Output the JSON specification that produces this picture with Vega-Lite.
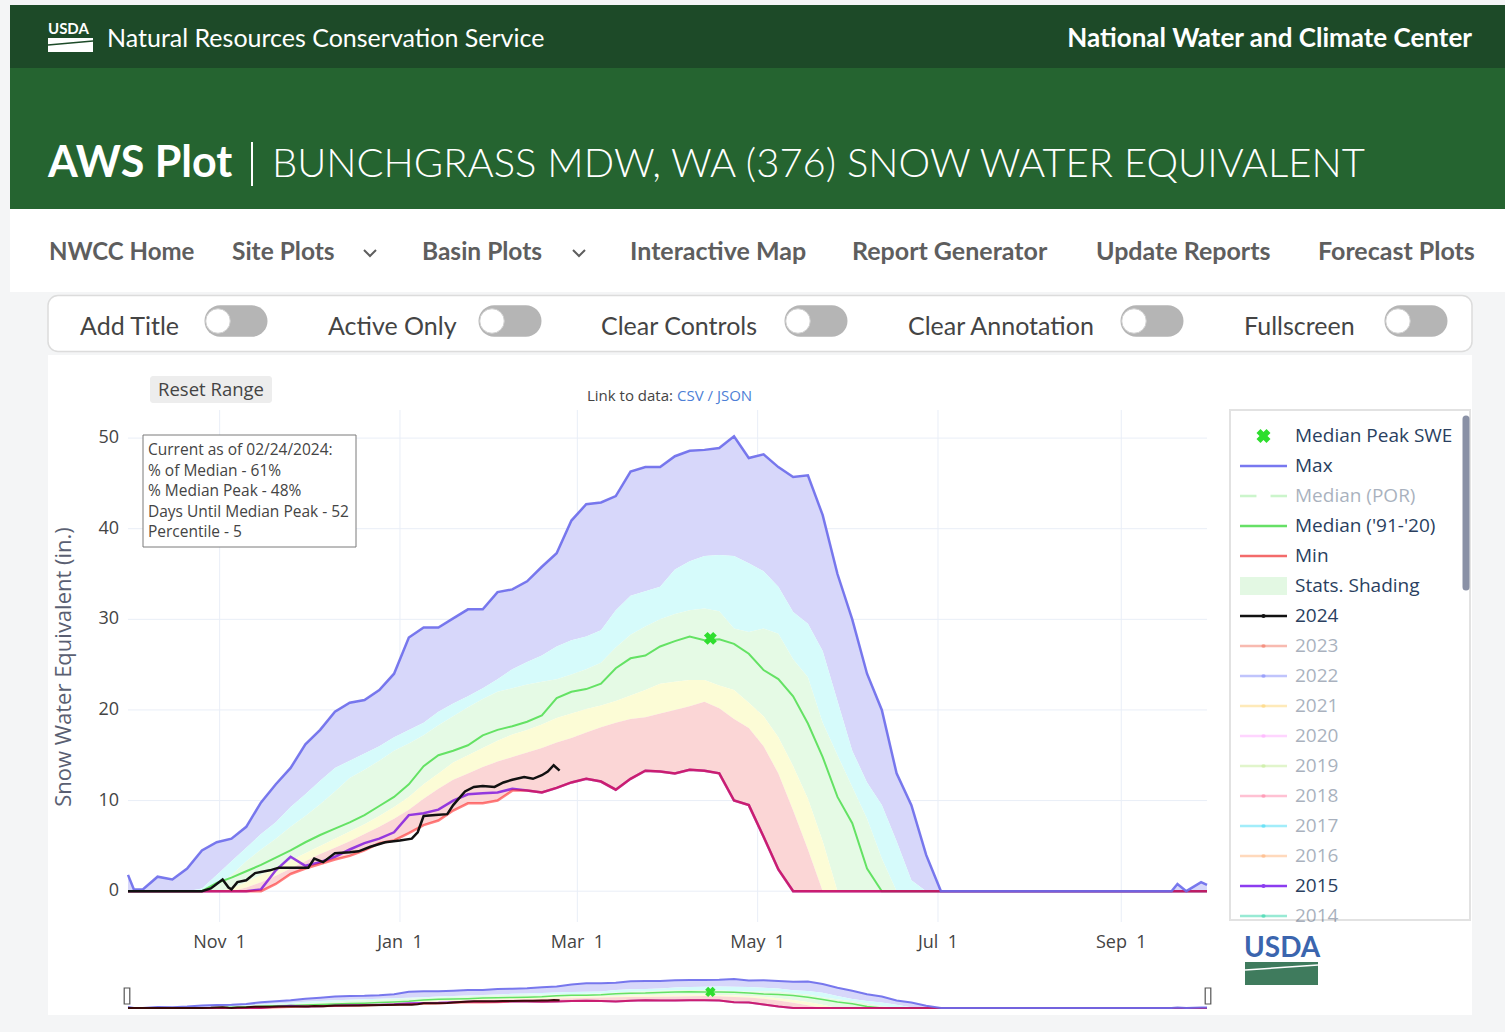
{
"$schema":"https://vega.github.io/schema/vega-lite/v6.json",
"background":"#f4f5f6",
"padding":{"left":10,"top":5,"right":0,"bottom":0},
"bounds":"flush",
"spacing":0,
"config":{"view":{"stroke":null},"font":"Open Sans"},
"datasets":{
"stats":[
{"d":"2023-10-01","mx":1.8,"b1":0,"b2":0,"b3":0,"b4":0,"mn":0,"med":0,"y15":0},
{"d":"2023-10-03","mx":0.2,"b1":0,"b2":0,"b3":0,"b4":0,"mn":0,"med":0,"y15":0},
{"d":"2023-10-06","mx":0.2,"b1":0,"b2":0,"b3":0,"b4":0,"mn":0,"med":0,"y15":0},
{"d":"2023-10-11","mx":1.6,"b1":0,"b2":0,"b3":0,"b4":0,"mn":0,"med":0,"y15":0},
{"d":"2023-10-16","mx":1.3,"b1":0,"b2":0,"b3":0,"b4":0,"mn":0,"med":0,"y15":0},
{"d":"2023-10-21","mx":2.5,"b1":0,"b2":0,"b3":0,"b4":0,"mn":0,"med":0,"y15":0},
{"d":"2023-10-26","mx":4.5,"b1":0.3,"b2":0,"b3":0,"b4":0,"mn":0,"med":0,"y15":0},
{"d":"2023-10-31","mx":5.4,"b1":1.8,"b2":0.6,"b3":0,"b4":0,"mn":0,"med":0.9,"y15":0},
{"d":"2023-11-05","mx":5.8,"b1":3.3,"b2":1.8,"b3":0.3,"b4":0,"mn":0,"med":1.5,"y15":0},
{"d":"2023-11-10","mx":7.1,"b1":4.8,"b2":3.3,"b3":1.0,"b4":0.4,"mn":0,"med":2.2,"y15":0},
{"d":"2023-11-15","mx":9.8,"b1":6.3,"b2":4.6,"b3":1.8,"b4":1.0,"mn":0,"med":2.9,"y15":0.2},
{"d":"2023-11-20","mx":11.8,"b1":7.6,"b2":5.8,"b3":2.6,"b4":1.7,"mn":0.8,"med":3.7,"y15":2.3},
{"d":"2023-11-25","mx":13.6,"b1":9.3,"b2":7.1,"b3":3.4,"b4":2.5,"mn":1.9,"med":4.5,"y15":3.8},
{"d":"2023-11-30","mx":16.2,"b1":10.7,"b2":8.3,"b3":4.2,"b4":3.3,"mn":2.5,"med":5.4,"y15":2.8},
{"d":"2023-12-05","mx":17.8,"b1":12.2,"b2":9.6,"b3":5.0,"b4":4.1,"mn":3.0,"med":6.2,"y15":3.2},
{"d":"2023-12-10","mx":19.8,"b1":13.6,"b2":11.0,"b3":5.8,"b4":4.8,"mn":3.5,"med":6.9,"y15":3.8},
{"d":"2023-12-15","mx":20.8,"b1":14.4,"b2":12.5,"b3":6.6,"b4":5.5,"mn":3.9,"med":7.6,"y15":4.6},
{"d":"2023-12-20","mx":21.1,"b1":15.2,"b2":13.4,"b3":7.4,"b4":6.3,"mn":4.5,"med":8.4,"y15":5.3},
{"d":"2023-12-25","mx":22.2,"b1":16.0,"b2":14.4,"b3":8.3,"b4":7.1,"mn":5.3,"med":9.4,"y15":5.8},
{"d":"2023-12-30","mx":24.0,"b1":17.0,"b2":15.5,"b3":9.3,"b4":8.0,"mn":5.6,"med":10.4,"y15":6.5},
{"d":"2024-01-04","mx":28.0,"b1":17.8,"b2":16.3,"b3":10.4,"b4":9.0,"mn":6.4,"med":11.8,"y15":8.4},
{"d":"2024-01-09","mx":29.1,"b1":18.6,"b2":17.2,"b3":11.8,"b4":10.2,"mn":7.3,"med":13.8,"y15":8.6},
{"d":"2024-01-14","mx":29.1,"b1":19.8,"b2":18.3,"b3":13.0,"b4":11.3,"mn":7.8,"med":15.0,"y15":9.0},
{"d":"2024-01-19","mx":30.1,"b1":20.7,"b2":19.3,"b3":14.2,"b4":12.3,"mn":8.9,"med":15.5,"y15":10.0},
{"d":"2024-01-24","mx":31.1,"b1":21.5,"b2":20.3,"b3":15.0,"b4":13.0,"mn":9.7,"med":16.1,"y15":10.7},
{"d":"2024-01-29","mx":31.1,"b1":22.4,"b2":21.2,"b3":15.8,"b4":13.7,"mn":9.7,"med":17.2,"y15":10.8},
{"d":"2024-02-03","mx":33.0,"b1":23.4,"b2":22.0,"b3":16.6,"b4":14.3,"mn":10.0,"med":17.8,"y15":10.9},
{"d":"2024-02-08","mx":33.3,"b1":24.5,"b2":22.4,"b3":17.3,"b4":14.8,"mn":11.1,"med":18.2,"y15":11.3},
{"d":"2024-02-13","mx":34.2,"b1":25.3,"b2":22.8,"b3":17.8,"b4":15.3,"mn":11.1,"med":18.7,"y15":11.1},
{"d":"2024-02-18","mx":35.8,"b1":26.0,"b2":23.1,"b3":18.4,"b4":15.8,"mn":10.9,"med":19.4,"y15":10.9},
{"d":"2024-02-23","mx":37.3,"b1":27.0,"b2":23.4,"b3":19.1,"b4":16.4,"mn":11.4,"med":21.3,"y15":11.4},
{"d":"2024-02-28","mx":40.9,"b1":27.7,"b2":23.9,"b3":19.6,"b4":16.9,"mn":12.0,"med":22.0,"y15":12.0},
{"d":"2024-03-04","mx":42.7,"b1":28.1,"b2":24.5,"b3":20.1,"b4":17.5,"mn":12.4,"med":22.3,"y15":12.4},
{"d":"2024-03-09","mx":42.9,"b1":28.8,"b2":25.2,"b3":20.5,"b4":18.1,"mn":12.1,"med":22.9,"y15":12.1},
{"d":"2024-03-14","mx":43.6,"b1":31.0,"b2":26.9,"b3":21.0,"b4":18.6,"mn":11.2,"med":24.6,"y15":11.2},
{"d":"2024-03-19","mx":46.3,"b1":32.6,"b2":28.3,"b3":21.6,"b4":19.0,"mn":12.4,"med":25.7,"y15":12.4},
{"d":"2024-03-24","mx":46.8,"b1":33.1,"b2":29.2,"b3":22.2,"b4":19.2,"mn":13.3,"med":26.0,"y15":13.3},
{"d":"2024-03-29","mx":46.8,"b1":33.6,"b2":30.0,"b3":22.9,"b4":19.6,"mn":13.2,"med":27.0,"y15":13.2},
{"d":"2024-04-03","mx":48.0,"b1":35.5,"b2":30.6,"b3":23.1,"b4":20.0,"mn":13.0,"med":27.6,"y15":13.0},
{"d":"2024-04-08","mx":48.6,"b1":36.4,"b2":31.0,"b3":23.3,"b4":20.4,"mn":13.4,"med":28.1,"y15":13.4},
{"d":"2024-04-13","mx":48.7,"b1":37.0,"b2":31.2,"b3":23.3,"b4":20.9,"mn":13.3,"med":27.7,"y15":13.3},
{"d":"2024-04-18","mx":48.9,"b1":37.1,"b2":30.9,"b3":22.7,"b4":20.2,"mn":13.0,"med":27.8,"y15":13.0},
{"d":"2024-04-23","mx":50.2,"b1":37.0,"b2":29.0,"b3":22.2,"b4":19.0,"mn":10.0,"med":27.3,"y15":10.0},
{"d":"2024-04-28","mx":47.8,"b1":36.2,"b2":28.6,"b3":20.8,"b4":18.0,"mn":9.5,"med":26.2,"y15":9.5},
{"d":"2024-05-03","mx":48.2,"b1":35.3,"b2":29.0,"b3":19.3,"b4":16.0,"mn":6.0,"med":24.4,"y15":6.0},
{"d":"2024-05-08","mx":46.8,"b1":33.6,"b2":28.4,"b3":17.0,"b4":13.0,"mn":2.4,"med":23.4,"y15":2.4},
{"d":"2024-05-13","mx":45.7,"b1":30.8,"b2":25.6,"b3":13.8,"b4":8.9,"mn":0,"med":21.5,"y15":0},
{"d":"2024-05-18","mx":45.9,"b1":29.5,"b2":23.6,"b3":10.2,"b4":4.6,"mn":0,"med":18.5,"y15":0},
{"d":"2024-05-23","mx":41.5,"b1":26.5,"b2":18.6,"b3":5.5,"b4":0,"mn":0,"med":14.8,"y15":0},
{"d":"2024-05-28","mx":35.0,"b1":21.0,"b2":15.0,"b3":0,"b4":0,"mn":0,"med":10.4,"y15":0},
{"d":"2024-06-02","mx":30.0,"b1":15.5,"b2":11.5,"b3":0,"b4":0,"mn":0,"med":7.5,"y15":0},
{"d":"2024-06-07","mx":24.0,"b1":12.0,"b2":8.0,"b3":0,"b4":0,"mn":0,"med":2.5,"y15":0},
{"d":"2024-06-12","mx":20.0,"b1":9.5,"b2":3.6,"b3":0,"b4":0,"mn":0,"med":0,"y15":0},
{"d":"2024-06-17","mx":13.0,"b1":5.5,"b2":0,"b3":0,"b4":0,"mn":0,"med":0,"y15":0},
{"d":"2024-06-22","mx":9.5,"b1":1.2,"b2":0,"b3":0,"b4":0,"mn":0,"med":0,"y15":0},
{"d":"2024-06-27","mx":4.0,"b1":0,"b2":0,"b3":0,"b4":0,"mn":0,"med":0,"y15":0},
{"d":"2024-07-02","mx":0,"b1":0,"b2":0,"b3":0,"b4":0,"mn":0,"med":0,"y15":0},
{"d":"2024-07-27","mx":0,"b1":0,"b2":0,"b3":0,"b4":0,"mn":0,"med":0,"y15":0},
{"d":"2024-09-05","mx":0,"b1":0,"b2":0,"b3":0,"b4":0,"mn":0,"med":0,"y15":0},
{"d":"2024-09-18","mx":0,"b1":0,"b2":0,"b3":0,"b4":0,"mn":0,"med":0,"y15":0},
{"d":"2024-09-20","mx":0.8,"b1":0,"b2":0,"b3":0,"b4":0,"mn":0,"med":0,"y15":0},
{"d":"2024-09-23","mx":0,"b1":0,"b2":0,"b3":0,"b4":0,"mn":0,"med":0,"y15":0},
{"d":"2024-09-28","mx":1.0,"b1":0,"b2":0,"b3":0,"b4":0,"mn":0,"med":0,"y15":0},
{"d":"2024-09-30","mx":0.7,"b1":0,"b2":0,"b3":0,"b4":0,"mn":0,"med":0,"y15":0}
],
"y2024":[
{"d":"2023-10-01","v":0},{"d":"2023-10-26","v":0},{"d":"2023-10-29","v":0.3},{"d":"2023-10-31","v":0.8},
{"d":"2023-11-02","v":1.3},{"d":"2023-11-04","v":0.4},{"d":"2023-11-05","v":0.2},{"d":"2023-11-07","v":1.0},
{"d":"2023-11-10","v":1.2},{"d":"2023-11-13","v":2.0},{"d":"2023-11-18","v":2.3},{"d":"2023-11-21","v":2.6},
{"d":"2023-11-26","v":2.6},{"d":"2023-12-01","v":2.6},{"d":"2023-12-03","v":3.6},{"d":"2023-12-06","v":3.2},
{"d":"2023-12-10","v":4.2},{"d":"2023-12-15","v":4.3},{"d":"2023-12-18","v":4.4},{"d":"2023-12-22","v":4.9},
{"d":"2023-12-27","v":5.4},{"d":"2024-01-01","v":5.6},{"d":"2024-01-05","v":5.8},{"d":"2024-01-07","v":6.5},
{"d":"2024-01-09","v":8.3},{"d":"2024-01-13","v":8.4},{"d":"2024-01-17","v":8.5},{"d":"2024-01-19","v":9.5},
{"d":"2024-01-23","v":11.0},{"d":"2024-01-26","v":11.5},{"d":"2024-01-29","v":11.6},{"d":"2024-02-02","v":11.5},
{"d":"2024-02-05","v":12.0},{"d":"2024-02-08","v":12.3},{"d":"2024-02-12","v":12.6},{"d":"2024-02-15","v":12.4},
{"d":"2024-02-18","v":12.8},{"d":"2024-02-20","v":13.2},{"d":"2024-02-22","v":13.9},{"d":"2024-02-24","v":13.3}
],
"peak":[{"d":"2024-04-15","v":27.9}],
"ticksX":[{"d":"2023-11-01","lab":"Nov\u00a0\u00a01"},{"d":"2024-01-01","lab":"Jan\u00a0\u00a01"},{"d":"2024-03-01","lab":"Mar\u00a0\u00a01"},{"d":"2024-05-01","lab":"May\u00a0\u00a01"},{"d":"2024-07-01","lab":"Jul\u00a0\u00a01"},{"d":"2024-09-01","lab":"Sep\u00a0\u00a01"}],
"ticksY":[{"v":0,"from":"2023-10-01","to":"2024-09-30"},{"v":10,"from":"2023-10-01","to":"2024-09-30"},{"v":20,"from":"2023-10-01","to":"2024-09-30"},{"v":30,"from":"2023-10-01","to":"2024-09-30"},{"v":40,"from":"2023-10-01","to":"2024-09-30"},{"v":50,"from":"2023-10-01","to":"2024-09-30"}],
"legend":[
{"label":"Median Peak SWE","state":"on"},{"label":"Max","state":"on"},{"label":"Median (POR)","state":"off"},
{"label":"Median ('91-'20)","state":"on"},{"label":"Min","state":"on"},{"label":"Stats. Shading","state":"on"},
{"label":"2024","state":"on"},{"label":"2023","state":"off"},{"label":"2022","state":"off"},{"label":"2021","state":"off"},
{"label":"2020","state":"off"},{"label":"2019","state":"off"},{"label":"2018","state":"off"},{"label":"2017","state":"off"},
{"label":"2016","state":"off"},{"label":"2015","state":"on"},{"label":"2014","state":"off"}
]
},
"vconcat":[
{"width":1495,"height":63,"view":{"fill":"#1d4a28","stroke":null},"layer":[
 {"data":{"values":[{"t":"USDA"}]},"mark":{"type":"text","font":"Lato","fontSize":15,"fontWeight":"bold","color":"#ffffff","align":"left","baseline":"alphabetic"},"encoding":{"text":{"field":"t"},"x":{"datum":38,"type":"quantitative","scale":{"domain":[0,1495],"nice":false,"zero":false},"axis":null},"y":{"datum":29,"type":"quantitative","scale":{"domain":[0,63],"nice":false,"zero":false,"reverse":true},"axis":null}}},
 {"data":{"values":[{}]},"mark":{"type":"rect","color":"#ffffff"},"encoding":{"x":{"datum":38,"type":"quantitative","scale":{"domain":[0,1495],"nice":false,"zero":false},"axis":null},"x2":{"datum":83},"y":{"datum":33,"type":"quantitative","scale":{"domain":[0,63],"nice":false,"zero":false,"reverse":true},"axis":null},"y2":{"datum":47}}},
 {"data":{"values":[{}]},"mark":{"type":"rule","color":"#1d4a28","strokeWidth":1.5},"encoding":{"x":{"datum":38,"type":"quantitative","scale":{"domain":[0,1495],"nice":false,"zero":false},"axis":null},"x2":{"datum":83},"y":{"datum":40,"type":"quantitative","scale":{"domain":[0,63],"nice":false,"zero":false,"reverse":true},"axis":null},"y2":{"datum":36}}},
 {"data":{"values":[{"t":"Natural Resources Conservation Service"}]},"mark":{"type":"text","font":"Lato","fontSize":25,"color":"#ffffff","align":"left","baseline":"alphabetic"},"encoding":{"text":{"field":"t"},"x":{"datum":97,"type":"quantitative","scale":{"domain":[0,1495],"nice":false,"zero":false},"axis":null},"y":{"datum":42,"type":"quantitative","scale":{"domain":[0,63],"nice":false,"zero":false,"reverse":true},"axis":null}}},
 {"data":{"values":[{"t":"National Water and Climate Center"}]},"mark":{"type":"text","font":"Lato","fontSize":26,"fontWeight":"bold","color":"#ffffff","align":"right","baseline":"alphabetic"},"encoding":{"text":{"field":"t"},"x":{"datum":1462,"type":"quantitative","scale":{"domain":[0,1495],"nice":false,"zero":false},"axis":null},"y":{"datum":42,"type":"quantitative","scale":{"domain":[0,63],"nice":false,"zero":false,"reverse":true},"axis":null}}}
]},
{"width":1495,"height":141,"view":{"fill":"#256430","stroke":null},"layer":[
 {"data":{"values":[{"t":"AWS Plot"}]},"mark":{"type":"text","font":"Lato","fontSize":43,"fontWeight":"bold","color":"#ffffff","align":"left","baseline":"alphabetic"},"encoding":{"text":{"field":"t"},"x":{"datum":38,"type":"quantitative","scale":{"domain":[0,1495],"nice":false,"zero":false},"axis":null},"y":{"datum":109,"type":"quantitative","scale":{"domain":[0,141],"nice":false,"zero":false,"reverse":true},"axis":null}}},
 {"data":{"values":[{}]},"mark":{"type":"rule","color":"#ffffff","strokeWidth":2},"encoding":{"x":{"datum":242,"type":"quantitative","scale":{"domain":[0,1495],"nice":false,"zero":false},"axis":null},"y":{"datum":74,"type":"quantitative","scale":{"domain":[0,141],"nice":false,"zero":false,"reverse":true},"axis":null},"y2":{"datum":118}}},
 {"data":{"values":[{"t":"BUNCHGRASS MDW, WA (376) SNOW WATER EQUIVALENT"}]},"mark":{"type":"text","font":"Lato","fontSize":40,"fontWeight":300,"color":"#ffffff","align":"left","baseline":"alphabetic"},"encoding":{"text":{"field":"t"},"x":{"datum":262,"type":"quantitative","scale":{"domain":[0,1495],"nice":false,"zero":false},"axis":null},"y":{"datum":109,"type":"quantitative","scale":{"domain":[0,141],"nice":false,"zero":false,"reverse":true},"axis":null}}}
]},
{"width":1495,"height":83,"view":{"fill":"#ffffff","stroke":null},"layer":[
 {"data":{"values":[{"t":"NWCC Home"}]},"mark":{"type":"text","font":"Lato","fontSize":24,"fontWeight":"bold","color":"#5e5e5e","align":"left","baseline":"alphabetic"},"encoding":{"text":{"field":"t"},"x":{"datum":39,"type":"quantitative","scale":{"domain":[0,1495],"nice":false,"zero":false},"axis":null},"y":{"datum":51,"type":"quantitative","scale":{"domain":[0,83],"nice":false,"zero":false,"reverse":true},"axis":null}}},
 {"data":{"values":[{"t":"Site Plots"}]},"mark":{"type":"text","font":"Lato","fontSize":24.5,"fontWeight":"bold","color":"#5e5e5e","align":"left","baseline":"alphabetic"},"encoding":{"text":{"field":"t"},"x":{"datum":222,"type":"quantitative","scale":{"domain":[0,1495],"nice":false,"zero":false},"axis":null},"y":{"datum":51,"type":"quantitative","scale":{"domain":[0,83],"nice":false,"zero":false,"reverse":true},"axis":null}}},
 {"data":{"values":[{"t":"Basin Plots"}]},"mark":{"type":"text","font":"Lato","fontSize":24.5,"fontWeight":"bold","color":"#5e5e5e","align":"left","baseline":"alphabetic"},"encoding":{"text":{"field":"t"},"x":{"datum":412,"type":"quantitative","scale":{"domain":[0,1495],"nice":false,"zero":false},"axis":null},"y":{"datum":51,"type":"quantitative","scale":{"domain":[0,83],"nice":false,"zero":false,"reverse":true},"axis":null}}},
 {"data":{"values":[{"t":"Interactive Map"}]},"mark":{"type":"text","font":"Lato","fontSize":25,"fontWeight":"bold","color":"#5e5e5e","align":"left","baseline":"alphabetic"},"encoding":{"text":{"field":"t"},"x":{"datum":620,"type":"quantitative","scale":{"domain":[0,1495],"nice":false,"zero":false},"axis":null},"y":{"datum":51,"type":"quantitative","scale":{"domain":[0,83],"nice":false,"zero":false,"reverse":true},"axis":null}}},
 {"data":{"values":[{"t":"Report Generator"}]},"mark":{"type":"text","font":"Lato","fontSize":25,"fontWeight":"bold","color":"#5e5e5e","align":"left","baseline":"alphabetic"},"encoding":{"text":{"field":"t"},"x":{"datum":842,"type":"quantitative","scale":{"domain":[0,1495],"nice":false,"zero":false},"axis":null},"y":{"datum":51,"type":"quantitative","scale":{"domain":[0,83],"nice":false,"zero":false,"reverse":true},"axis":null}}},
 {"data":{"values":[{"t":"Update Reports"}]},"mark":{"type":"text","font":"Lato","fontSize":25,"fontWeight":"bold","color":"#5e5e5e","align":"left","baseline":"alphabetic"},"encoding":{"text":{"field":"t"},"x":{"datum":1086,"type":"quantitative","scale":{"domain":[0,1495],"nice":false,"zero":false},"axis":null},"y":{"datum":51,"type":"quantitative","scale":{"domain":[0,83],"nice":false,"zero":false,"reverse":true},"axis":null}}},
 {"data":{"values":[{"t":"Forecast Plots"}]},"mark":{"type":"text","font":"Lato","fontSize":25,"fontWeight":"bold","color":"#5e5e5e","align":"left","baseline":"alphabetic"},"encoding":{"text":{"field":"t"},"x":{"datum":1308,"type":"quantitative","scale":{"domain":[0,1495],"nice":false,"zero":false},"axis":null},"y":{"datum":51,"type":"quantitative","scale":{"domain":[0,83],"nice":false,"zero":false,"reverse":true},"axis":null}}},
 {"data":{"values":[{}]},"mark":{"type":"point","shape":"M -1 -0.5 L 0 0.5 L 1 -0.5","filled":false,"color":"#5e5e5e","strokeWidth":2,"size":144,"opacity":1},"encoding":{"x":{"datum":360,"type":"quantitative","scale":{"domain":[0,1495],"nice":false,"zero":false},"axis":null},"y":{"datum":44,"type":"quantitative","scale":{"domain":[0,83],"nice":false,"zero":false,"reverse":true},"axis":null}}},
 {"data":{"values":[{}]},"mark":{"type":"point","shape":"M -1 -0.5 L 0 0.5 L 1 -0.5","filled":false,"color":"#5e5e5e","strokeWidth":2,"size":144,"opacity":1},"encoding":{"x":{"datum":569,"type":"quantitative","scale":{"domain":[0,1495],"nice":false,"zero":false},"axis":null},"y":{"datum":44,"type":"quantitative","scale":{"domain":[0,83],"nice":false,"zero":false,"reverse":true},"axis":null}}}
]},
{"width":1495,"height":3,"data":{"values":[]},"mark":"rect"},
{"width":1495,"height":57,"layer":[
 {"data":{"values":[{}]},"mark":{"type":"rect","fill":"#ffffff","stroke":"#dcdcdc","strokeWidth":1.5,"cornerRadius":10},"encoding":{"x":{"datum":38,"type":"quantitative","scale":{"domain":[0,1495],"nice":false,"zero":false},"axis":null},"x2":{"datum":1462},"y":{"datum":0.5,"type":"quantitative","scale":{"domain":[0,57],"nice":false,"zero":false,"reverse":true},"axis":null},"y2":{"datum":56.5}}},
 {"data":{"values":[{"t":"Add Title"}]},"mark":{"type":"text","font":"Lato","fontSize":25,"color":"#444444","align":"left","baseline":"alphabetic"},"encoding":{"text":{"field":"t"},"x":{"datum":70,"type":"quantitative","scale":{"domain":[0,1495],"nice":false,"zero":false},"axis":null},"y":{"datum":40,"type":"quantitative","scale":{"domain":[0,57],"nice":false,"zero":false,"reverse":true},"axis":null}}},
 {"data":{"values":[{"t":"Active Only"}]},"mark":{"type":"text","font":"Lato","fontSize":25,"color":"#444444","align":"left","baseline":"alphabetic"},"encoding":{"text":{"field":"t"},"x":{"datum":318,"type":"quantitative","scale":{"domain":[0,1495],"nice":false,"zero":false},"axis":null},"y":{"datum":40,"type":"quantitative","scale":{"domain":[0,57],"nice":false,"zero":false,"reverse":true},"axis":null}}},
 {"data":{"values":[{"t":"Clear Controls"}]},"mark":{"type":"text","font":"Lato","fontSize":25,"color":"#444444","align":"left","baseline":"alphabetic"},"encoding":{"text":{"field":"t"},"x":{"datum":591,"type":"quantitative","scale":{"domain":[0,1495],"nice":false,"zero":false},"axis":null},"y":{"datum":40,"type":"quantitative","scale":{"domain":[0,57],"nice":false,"zero":false,"reverse":true},"axis":null}}},
 {"data":{"values":[{"t":"Clear Annotation"}]},"mark":{"type":"text","font":"Lato","fontSize":25,"color":"#444444","align":"left","baseline":"alphabetic"},"encoding":{"text":{"field":"t"},"x":{"datum":898,"type":"quantitative","scale":{"domain":[0,1495],"nice":false,"zero":false},"axis":null},"y":{"datum":40,"type":"quantitative","scale":{"domain":[0,57],"nice":false,"zero":false,"reverse":true},"axis":null}}},
 {"data":{"values":[{"t":"Fullscreen"}]},"mark":{"type":"text","font":"Lato","fontSize":25,"color":"#444444","align":"left","baseline":"alphabetic"},"encoding":{"text":{"field":"t"},"x":{"datum":1234,"type":"quantitative","scale":{"domain":[0,1495],"nice":false,"zero":false},"axis":null},"y":{"datum":40,"type":"quantitative","scale":{"domain":[0,57],"nice":false,"zero":false,"reverse":true},"axis":null}}},
 {"data":{"values":[{}]},"mark":{"type":"point","shape":"M -0.5 -0.5 L 0.5 -0.5 A 0.5 0.5 0 0 1 0.5 0.5 L -0.5 0.5 A 0.5 0.5 0 0 1 -0.5 -0.5 Z","filled":true,"color":"#b5b5b5","size":3969,"opacity":1},"encoding":{"x":{"datum":226,"type":"quantitative","scale":{"domain":[0,1495],"nice":false,"zero":false},"axis":null},"y":{"datum":26,"type":"quantitative","scale":{"domain":[0,57],"nice":false,"zero":false,"reverse":true},"axis":null}}},
 {"data":{"values":[{}]},"mark":{"type":"point","shape":"M -0.5 -0.5 L 0.5 -0.5 A 0.5 0.5 0 0 1 0.5 0.5 L -0.5 0.5 A 0.5 0.5 0 0 1 -0.5 -0.5 Z","filled":true,"color":"#b5b5b5","size":3969,"opacity":1},"encoding":{"x":{"datum":500,"type":"quantitative","scale":{"domain":[0,1495],"nice":false,"zero":false},"axis":null},"y":{"datum":26,"type":"quantitative","scale":{"domain":[0,57],"nice":false,"zero":false,"reverse":true},"axis":null}}},
 {"data":{"values":[{}]},"mark":{"type":"point","shape":"M -0.5 -0.5 L 0.5 -0.5 A 0.5 0.5 0 0 1 0.5 0.5 L -0.5 0.5 A 0.5 0.5 0 0 1 -0.5 -0.5 Z","filled":true,"color":"#b5b5b5","size":3969,"opacity":1},"encoding":{"x":{"datum":806,"type":"quantitative","scale":{"domain":[0,1495],"nice":false,"zero":false},"axis":null},"y":{"datum":26,"type":"quantitative","scale":{"domain":[0,57],"nice":false,"zero":false,"reverse":true},"axis":null}}},
 {"data":{"values":[{}]},"mark":{"type":"point","shape":"M -0.5 -0.5 L 0.5 -0.5 A 0.5 0.5 0 0 1 0.5 0.5 L -0.5 0.5 A 0.5 0.5 0 0 1 -0.5 -0.5 Z","filled":true,"color":"#b5b5b5","size":3969,"opacity":1},"encoding":{"x":{"datum":1142,"type":"quantitative","scale":{"domain":[0,1495],"nice":false,"zero":false},"axis":null},"y":{"datum":26,"type":"quantitative","scale":{"domain":[0,57],"nice":false,"zero":false,"reverse":true},"axis":null}}},
 {"data":{"values":[{}]},"mark":{"type":"point","shape":"M -0.5 -0.5 L 0.5 -0.5 A 0.5 0.5 0 0 1 0.5 0.5 L -0.5 0.5 A 0.5 0.5 0 0 1 -0.5 -0.5 Z","filled":true,"color":"#b5b5b5","size":3969,"opacity":1},"encoding":{"x":{"datum":1406,"type":"quantitative","scale":{"domain":[0,1495],"nice":false,"zero":false},"axis":null},"y":{"datum":26,"type":"quantitative","scale":{"domain":[0,57],"nice":false,"zero":false,"reverse":true},"axis":null}}},
 {"data":{"values":[{}]},"mark":{"type":"point","shape":"circle","filled":true,"fill":"#ffffff","stroke":"#cfcfcf","strokeWidth":1,"size":600,"opacity":1},"encoding":{"x":{"datum":208,"type":"quantitative","scale":{"domain":[0,1495],"nice":false,"zero":false},"axis":null},"y":{"datum":26,"type":"quantitative","scale":{"domain":[0,57],"nice":false,"zero":false,"reverse":true},"axis":null}}},
 {"data":{"values":[{}]},"mark":{"type":"point","shape":"circle","filled":true,"fill":"#ffffff","stroke":"#cfcfcf","strokeWidth":1,"size":600,"opacity":1},"encoding":{"x":{"datum":482,"type":"quantitative","scale":{"domain":[0,1495],"nice":false,"zero":false},"axis":null},"y":{"datum":26,"type":"quantitative","scale":{"domain":[0,57],"nice":false,"zero":false,"reverse":true},"axis":null}}},
 {"data":{"values":[{}]},"mark":{"type":"point","shape":"circle","filled":true,"fill":"#ffffff","stroke":"#cfcfcf","strokeWidth":1,"size":600,"opacity":1},"encoding":{"x":{"datum":788,"type":"quantitative","scale":{"domain":[0,1495],"nice":false,"zero":false},"axis":null},"y":{"datum":26,"type":"quantitative","scale":{"domain":[0,57],"nice":false,"zero":false,"reverse":true},"axis":null}}},
 {"data":{"values":[{}]},"mark":{"type":"point","shape":"circle","filled":true,"fill":"#ffffff","stroke":"#cfcfcf","strokeWidth":1,"size":600,"opacity":1},"encoding":{"x":{"datum":1124,"type":"quantitative","scale":{"domain":[0,1495],"nice":false,"zero":false},"axis":null},"y":{"datum":26,"type":"quantitative","scale":{"domain":[0,57],"nice":false,"zero":false,"reverse":true},"axis":null}}},
 {"data":{"values":[{}]},"mark":{"type":"point","shape":"circle","filled":true,"fill":"#ffffff","stroke":"#cfcfcf","strokeWidth":1,"size":600,"opacity":1},"encoding":{"x":{"datum":1388,"type":"quantitative","scale":{"domain":[0,1495],"nice":false,"zero":false},"axis":null},"y":{"datum":26,"type":"quantitative","scale":{"domain":[0,57],"nice":false,"zero":false,"reverse":true},"axis":null}}}
]},
{"width":1495,"height":58,"data":{"values":[]},"mark":"rect"},
{"width":1460,"height":512,"view":{"stroke":null},
 "resolve":{"scale":{"x":"independent","y":"independent"}},
 "layer":[
  {"layer":[
   {"data":{"values":[{}]},"mark":{"type":"rect","fill":"#ffffff"},"encoding":{"x":{"datum":38,"type":"quantitative","scale":{"domain":[0,1460],"range":[0,1460],"nice":false,"zero":false},"axis":null},"x2":{"datum":1462},"y":{"datum":-55,"type":"quantitative","scale":{"domain":[0,598],"range":[0,598],"nice":false,"zero":false},"axis":null},"y2":{"datum":605}}},
   {"data":{"values":[{}]},"mark":{"type":"rect","fill":"#ffffff","stroke":"#e2e2e2","strokeWidth":2},"encoding":{"x":{"datum":1220,"type":"quantitative","scale":{"domain":[0,1460],"range":[0,1460],"nice":false,"zero":false},"axis":null},"x2":{"datum":1460},"y":{"datum":0,"type":"quantitative","scale":{"domain":[0,598],"range":[0,598],"nice":false,"zero":false},"axis":null},"y2":{"datum":510}}},
   {"data":{"values":[{}]},"mark":{"type":"rule","color":"#8a91a6","strokeWidth":7,"strokeCap":"round"},"encoding":{"x":{"datum":1456,"type":"quantitative","scale":{"domain":[0,1460],"range":[0,1460],"nice":false,"zero":false},"axis":null},"y":{"datum":9,"type":"quantitative","scale":{"domain":[0,598],"range":[0,598],"nice":false,"zero":false},"axis":null},"y2":{"datum":177}}},
   {"data":{"values":[{"t":"USDA"}]},"mark":{"type":"text","font":"Lato","fontSize":28,"fontWeight":"bold","color":"#3b65ae","align":"left","baseline":"alphabetic"},"encoding":{"text":{"field":"t"},"x":{"datum":1234,"type":"quantitative","scale":{"domain":[0,1460],"range":[0,1460],"nice":false,"zero":false},"axis":null},"y":{"datum":547,"type":"quantitative","scale":{"domain":[0,598],"range":[0,598],"nice":false,"zero":false},"axis":null}}},
   {"data":{"values":[{}]},"mark":{"type":"rect","fill":"#3f7b5d"},"encoding":{"x":{"datum":1235,"type":"quantitative","scale":{"domain":[0,1460],"range":[0,1460],"nice":false,"zero":false},"axis":null},"x2":{"datum":1308},"y":{"datum":552,"type":"quantitative","scale":{"domain":[0,598],"range":[0,598],"nice":false,"zero":false},"axis":null},"y2":{"datum":575}}},
   {"data":{"values":[{}]},"mark":{"type":"rule","color":"#ffffff","strokeWidth":1.5},"encoding":{"x":{"datum":1235,"type":"quantitative","scale":{"domain":[0,1460],"range":[0,1460],"nice":false,"zero":false},"axis":null},"x2":{"datum":1308},"y":{"datum":560,"type":"quantitative","scale":{"domain":[0,598],"range":[0,598],"nice":false,"zero":false},"axis":null},"y2":{"datum":555}}}
  ]},
  {"encoding":{"x":{"field":"d","type":"temporal","scale":{"domain":[{"year":2023,"month":10,"date":1},{"year":2024,"month":9,"date":30}],"range":[118,1197],"nice":false},"axis":null}},
   "layer":[
    {"data":{"name":"ticksX"},"mark":{"type":"rule","color":"#e9eef7","strokeWidth":1},"encoding":{"y":{"datum":-3.4,"type":"quantitative","scale":{"domain":[-3.4,53.1],"range":[512,0],"nice":false,"zero":false},"axis":null},"y2":{"datum":53.1}}},
    {"data":{"name":"ticksY"},"mark":{"type":"rule","color":"#e9eef7","strokeWidth":1},"encoding":{"x":{"field":"from","type":"temporal","axis":null},"x2":{"field":"to"},"y":{"field":"v","type":"quantitative","scale":{"domain":[-3.4,53.1],"range":[512,0],"nice":false,"zero":false},"axis":null}}},
    {"data":{"name":"ticksY"},"mark":{"type":"text","font":"Open Sans","fontSize":18,"color":"#444444","align":"right","baseline":"middle","dx":-9},"encoding":{"x":{"field":"from","type":"temporal","axis":null},"y":{"field":"v","type":"quantitative","scale":{"domain":[-3.4,53.1],"range":[512,0],"nice":false,"zero":false},"axis":null},"text":{"field":"v"}}},
    {"data":{"name":"ticksX"},"mark":{"type":"text","font":"Open Sans","fontSize":18,"color":"#444444","align":"center","baseline":"middle","dy":21},"encoding":{"y":{"datum":-3.4,"type":"quantitative","scale":{"domain":[-3.4,53.1],"range":[512,0],"nice":false,"zero":false},"axis":null},"text":{"field":"lab"}}},
    {"data":{"name":"stats"},"mark":{"type":"area","color":"#d7d7fa","opacity":1},"encoding":{"y":{"field":"mx","type":"quantitative","scale":{"domain":[-3.4,53.1],"range":[512,0],"nice":false,"zero":false},"axis":null},"y2":{"field":"b1"}}},
    {"data":{"name":"stats"},"mark":{"type":"area","color":"#d6fbfb","opacity":1},"encoding":{"y":{"field":"b1","type":"quantitative","scale":{"domain":[-3.4,53.1],"range":[512,0],"nice":false,"zero":false},"axis":null},"y2":{"field":"b2"}}},
    {"data":{"name":"stats"},"mark":{"type":"area","color":"#e5fae5","opacity":1},"encoding":{"y":{"field":"b2","type":"quantitative","scale":{"domain":[-3.4,53.1],"range":[512,0],"nice":false,"zero":false},"axis":null},"y2":{"field":"b3"}}},
    {"data":{"name":"stats"},"mark":{"type":"area","color":"#fcfcd6","opacity":1},"encoding":{"y":{"field":"b3","type":"quantitative","scale":{"domain":[-3.4,53.1],"range":[512,0],"nice":false,"zero":false},"axis":null},"y2":{"field":"b4"}}},
    {"data":{"name":"stats"},"mark":{"type":"area","color":"#fbd6d6","opacity":1},"encoding":{"y":{"field":"b4","type":"quantitative","scale":{"domain":[-3.4,53.1],"range":[512,0],"nice":false,"zero":false},"axis":null},"y2":{"field":"mn"}}},
    {"data":{"name":"stats"},"mark":{"type":"line","color":"#64e264","strokeWidth":2},"encoding":{"y":{"field":"med","type":"quantitative","scale":{"domain":[-3.4,53.1],"range":[512,0],"nice":false,"zero":false},"axis":null}}},
    {"data":{"name":"stats"},"mark":{"type":"line","color":"#7a10e0","opacity":0.8,"strokeWidth":2.5},"encoding":{"y":{"field":"y15","type":"quantitative","scale":{"domain":[-3.4,53.1],"range":[512,0],"nice":false,"zero":false},"axis":null}}},
    {"data":{"name":"stats"},"mark":{"type":"line","color":"#ff0000","opacity":0.5,"strokeWidth":2.5},"encoding":{"y":{"field":"mn","type":"quantitative","scale":{"domain":[-3.4,53.1],"range":[512,0],"nice":false,"zero":false},"axis":null}}},
    {"data":{"name":"stats"},"mark":{"type":"line","color":"#6a6aeb","opacity":0.9,"strokeWidth":2.5},"encoding":{"y":{"field":"mx","type":"quantitative","scale":{"domain":[-3.4,53.1],"range":[512,0],"nice":false,"zero":false},"axis":null}}},
    {"data":{"name":"y2024"},"mark":{"type":"line","color":"#111111","strokeWidth":2.5},"encoding":{"y":{"field":"v","type":"quantitative","scale":{"domain":[-3.4,53.1],"range":[512,0],"nice":false,"zero":false},"axis":null}}},
    {"data":{"name":"peak"},"mark":{"type":"point","shape":"cross","angle":45,"filled":true,"color":"#2ede2e","size":170,"opacity":1},"encoding":{"y":{"field":"v","type":"quantitative","scale":{"domain":[-3.4,53.1],"range":[512,0],"nice":false,"zero":false},"axis":null}}}
   ]},
  {"encoding":{"x":{"field":"d","type":"temporal","scale":{"domain":[{"year":2023,"month":10,"date":1},{"year":2024,"month":9,"date":30}],"range":[118,1197],"nice":false},"axis":null}},
   "layer":[
    {"data":{"name":"stats"},"mark":{"type":"area","color":"#d7d7fa","opacity":1},"encoding":{"y":{"field":"mx","type":"quantitative","scale":{"domain":[0,52],"range":[598,568],"nice":false,"zero":false},"axis":null},"y2":{"field":"b1"}}},
    {"data":{"name":"stats"},"mark":{"type":"area","color":"#d6fbfb","opacity":1},"encoding":{"y":{"field":"b1","type":"quantitative","scale":{"domain":[0,52],"range":[598,568],"nice":false,"zero":false},"axis":null},"y2":{"field":"b2"}}},
    {"data":{"name":"stats"},"mark":{"type":"area","color":"#e5fae5","opacity":1},"encoding":{"y":{"field":"b2","type":"quantitative","scale":{"domain":[0,52],"range":[598,568],"nice":false,"zero":false},"axis":null},"y2":{"field":"b3"}}},
    {"data":{"name":"stats"},"mark":{"type":"area","color":"#fcfcd6","opacity":1},"encoding":{"y":{"field":"b3","type":"quantitative","scale":{"domain":[0,52],"range":[598,568],"nice":false,"zero":false},"axis":null},"y2":{"field":"b4"}}},
    {"data":{"name":"stats"},"mark":{"type":"area","color":"#fbd6d6","opacity":1},"encoding":{"y":{"field":"b4","type":"quantitative","scale":{"domain":[0,52],"range":[598,568],"nice":false,"zero":false},"axis":null},"y2":{"field":"mn"}}},
    {"data":{"name":"stats"},"mark":{"type":"line","color":"#64e264","strokeWidth":1.5},"encoding":{"y":{"field":"med","type":"quantitative","scale":{"domain":[0,52],"range":[598,568],"nice":false,"zero":false},"axis":null}}},
    {"data":{"name":"stats"},"mark":{"type":"line","color":"#7a10e0","opacity":0.8,"strokeWidth":2},"encoding":{"y":{"field":"y15","type":"quantitative","scale":{"domain":[0,52],"range":[598,568],"nice":false,"zero":false},"axis":null}}},
    {"data":{"name":"stats"},"mark":{"type":"line","color":"#ff0000","opacity":0.5,"strokeWidth":2},"encoding":{"y":{"field":"mn","type":"quantitative","scale":{"domain":[0,52],"range":[598,568],"nice":false,"zero":false},"axis":null}}},
    {"data":{"name":"stats"},"mark":{"type":"line","color":"#6a6aeb","opacity":0.9,"strokeWidth":2},"encoding":{"y":{"field":"mx","type":"quantitative","scale":{"domain":[0,52],"range":[598,568],"nice":false,"zero":false},"axis":null}}},
    {"data":{"name":"y2024"},"mark":{"type":"line","color":"#3a0a0a","strokeWidth":2},"encoding":{"y":{"field":"v","type":"quantitative","scale":{"domain":[0,52],"range":[598,568],"nice":false,"zero":false},"axis":null}}},
    {"data":{"name":"peak"},"mark":{"type":"point","shape":"cross","angle":45,"filled":true,"color":"#2ede2e","size":110,"opacity":1},"encoding":{"y":{"field":"v","type":"quantitative","scale":{"domain":[0,52],"range":[598,568],"nice":false,"zero":false},"axis":null}}}
   ]},
  {"layer":[
   {"data":{"values":[{}]},"mark":{"type":"rect","fill":"#ffffff","stroke":"#7a7a7a","strokeWidth":1},"encoding":{"x":{"datum":133,"type":"quantitative","scale":{"domain":[0,1460],"range":[0,1460],"nice":false,"zero":false},"axis":null},"x2":{"datum":346},"y":{"datum":25,"type":"quantitative","scale":{"domain":[0,598],"range":[0,598],"nice":false,"zero":false},"axis":null},"y2":{"datum":137}}},
   {"data":{"values":[{"t":"Current as of 02/24/2024:\n% of Median - 61%\n% Median Peak - 48%\nDays Until Median Peak - 52\nPercentile - 5"}]},"mark":{"type":"text","font":"Open Sans","fontSize":15.5,"color":"#444444","align":"left","baseline":"top","lineBreak":"\n","lineHeight":20.5},"encoding":{"text":{"field":"t"},"x":{"datum":138,"type":"quantitative","scale":{"domain":[0,1460],"range":[0,1460],"nice":false,"zero":false},"axis":null},"y":{"datum":33,"type":"quantitative","scale":{"domain":[0,598],"range":[0,598],"nice":false,"zero":false},"axis":null}}},
   {"data":{"values":[{}]},"mark":{"type":"rect","fill":"#ededed","cornerRadius":3},"encoding":{"x":{"datum":140,"type":"quantitative","scale":{"domain":[0,1460],"range":[0,1460],"nice":false,"zero":false},"axis":null},"x2":{"datum":262},"y":{"datum":-34,"type":"quantitative","scale":{"domain":[0,598],"range":[0,598],"nice":false,"zero":false},"axis":null},"y2":{"datum":-7}}},
   {"data":{"values":[{"t":"Reset Range"}]},"mark":{"type":"text","font":"Open Sans","fontSize":18.5,"color":"#444444","align":"center","baseline":"middle"},"encoding":{"text":{"field":"t"},"x":{"datum":201,"type":"quantitative","scale":{"domain":[0,1460],"range":[0,1460],"nice":false,"zero":false},"axis":null},"y":{"datum":-20,"type":"quantitative","scale":{"domain":[0,598],"range":[0,598],"nice":false,"zero":false},"axis":null}}},
   {"data":{"values":[{"t":"Link to data:"}]},"mark":{"type":"text","font":"Open Sans","fontSize":15,"color":"#444444","align":"right","baseline":"alphabetic"},"encoding":{"text":{"field":"t"},"x":{"datum":663,"type":"quantitative","scale":{"domain":[0,1460],"range":[0,1460],"nice":false,"zero":false},"axis":null},"y":{"datum":-9,"type":"quantitative","scale":{"domain":[0,598],"range":[0,598],"nice":false,"zero":false},"axis":null}}},
   {"data":{"values":[{"t":"CSV / JSON"}]},"mark":{"type":"text","font":"Open Sans","fontSize":15,"color":"#4d7fd6","align":"left","baseline":"alphabetic"},"encoding":{"text":{"field":"t"},"x":{"datum":667,"type":"quantitative","scale":{"domain":[0,1460],"range":[0,1460],"nice":false,"zero":false},"axis":null},"y":{"datum":-9,"type":"quantitative","scale":{"domain":[0,598],"range":[0,598],"nice":false,"zero":false},"axis":null}}},
   {"data":{"values":[{"t":"Snow Water Equivalent (in.)"}]},"mark":{"type":"text","font":"Open Sans","fontSize":22,"color":"#5a5f72","align":"center","baseline":"middle","angle":270},"encoding":{"text":{"field":"t"},"x":{"datum":54,"type":"quantitative","scale":{"domain":[0,1460],"range":[0,1460],"nice":false,"zero":false},"axis":null},"y":{"datum":257,"type":"quantitative","scale":{"domain":[0,598],"range":[0,598],"nice":false,"zero":false},"axis":null}}},
   {"data":{"values":[{}]},"mark":{"type":"point","shape":"M -0.35 -1 L 0.35 -1 L 0.35 1 L -0.35 1 Z","filled":true,"fill":"#ffffff","stroke":"#555555","strokeWidth":1.2,"size":256,"opacity":1},"encoding":{"x":{"datum":117,"type":"quantitative","scale":{"domain":[0,1460],"range":[0,1460],"nice":false,"zero":false},"axis":null},"y":{"datum":586,"type":"quantitative","scale":{"domain":[0,598],"range":[0,598],"nice":false,"zero":false},"axis":null}}},
   {"data":{"values":[{}]},"mark":{"type":"point","shape":"M -0.35 -1 L 0.35 -1 L 0.35 1 L -0.35 1 Z","filled":true,"fill":"#ffffff","stroke":"#555555","strokeWidth":1.2,"size":256,"opacity":1},"encoding":{"x":{"datum":1198,"type":"quantitative","scale":{"domain":[0,1460],"range":[0,1460],"nice":false,"zero":false},"axis":null},"y":{"datum":586,"type":"quantitative","scale":{"domain":[0,598],"range":[0,598],"nice":false,"zero":false},"axis":null}}}
  ]},
  {"data":{"name":"legend"},
   "encoding":{"y":{"field":"label","type":"nominal","scale":{"type":"point","domain":["Median Peak SWE","Max","Median (POR)","Median ('91-'20)","Min","Stats. Shading","2024","2023","2022","2021","2020","2019","2018","2017","2016","2015","2014"],"range":[26,506],"padding":0},"axis":null}},
   "layer":[
    {"transform":[{"filter":{"field":"label","oneOf":["Max","Median ('91-'20)","Min","2024","2023","2022","2021","2020","2019","2018","2017","2016","2015","2014"]}}],
     "mark":{"type":"point","shape":"M -1 0 L 1 0","filled":false,"strokeWidth":2.5,"size":2209,"clip":true},
     "encoding":{"x":{"datum":33.5,"type":"quantitative","scale":{"domain":[0,240],"range":[1220,1460],"nice":false,"zero":false},"axis":null},
      "stroke":{"field":"label","type":"nominal","scale":{"domain":["Max","Median ('91-'20)","Min","2024","2023","2022","2021","2020","2019","2018","2017","2016","2015","2014"],"range":["#7878f0","#66e066","#f36b6b","#111111","#ef553b","#636efa","#fecb52","#ff97ff","#b6e880","#ff6692","#19d3f3","#ffa15a","#8c3cf0","#00cc96"]},"legend":null},
      "opacity":{"field":"state","type":"nominal","scale":{"domain":["on","off"],"range":[1,0.4]},"legend":null}}},
    {"transform":[{"filter":{"field":"label","oneOf":["2024","2023","2022","2021","2020","2019","2018","2017","2016","2015","2014"]}}],
     "mark":{"type":"point","shape":"circle","filled":true,"size":18,"clip":true},
     "encoding":{"x":{"datum":33.5,"type":"quantitative","scale":{"domain":[0,240],"range":[1220,1460],"nice":false,"zero":false},"axis":null},
      "fill":{"field":"label","type":"nominal","scale":{"domain":["2024","2023","2022","2021","2020","2019","2018","2017","2016","2015","2014"],"range":["#111111","#ef553b","#636efa","#fecb52","#ff97ff","#b6e880","#ff6692","#19d3f3","#ffa15a","#8c3cf0","#00cc96"]},"legend":null},
      "opacity":{"field":"state","type":"nominal","scale":{"domain":["on","off"],"range":[1,0.4]},"legend":null}}},
    {"transform":[{"filter":{"field":"label","equal":"Median (POR)"}}],
     "mark":{"type":"point","shape":"M -1 0 L -0.3 0 M 0.3 0 L 1 0","filled":false,"strokeWidth":2.5,"size":2209,"color":"#7ee87e"},
     "encoding":{"x":{"datum":33.5,"type":"quantitative","scale":{"domain":[0,240],"range":[1220,1460],"nice":false,"zero":false},"axis":null},
      "opacity":{"field":"state","type":"nominal","scale":{"domain":["on","off"],"range":[1,0.4]},"legend":null}}},
    {"transform":[{"filter":{"field":"label","equal":"Median Peak SWE"}}],
     "mark":{"type":"point","shape":"cross","angle":45,"filled":true,"color":"#2ede2e","size":200,"opacity":1},
     "encoding":{"x":{"datum":33.5,"type":"quantitative","scale":{"domain":[0,240],"range":[1220,1460],"nice":false,"zero":false},"axis":null}}},
    {"transform":[{"filter":{"field":"label","equal":"Stats. Shading"}}],
     "mark":{"type":"point","shape":"M -1 -0.38 L 1 -0.38 L 1 0.38 L -1 0.38 Z","filled":true,"color":"#e3f8e3","size":2209,"opacity":1},
     "encoding":{"x":{"datum":33.5,"type":"quantitative","scale":{"domain":[0,240],"range":[1220,1460],"nice":false,"zero":false},"axis":null}}},
    {"mark":{"type":"text","font":"Open Sans","fontSize":19,"color":"#2a3f5f","align":"left","baseline":"middle","clip":true},
     "encoding":{"text":{"field":"label"},"x":{"datum":65,"type":"quantitative","scale":{"domain":[0,240],"range":[1220,1460],"nice":false,"zero":false},"axis":null},
      "opacity":{"field":"state","type":"nominal","scale":{"domain":["on","off"],"range":[1,0.4]},"legend":null}}}
   ]}
 ]},
{"width":1495,"height":110,"data":{"values":[]},"mark":"rect"}
]
}
